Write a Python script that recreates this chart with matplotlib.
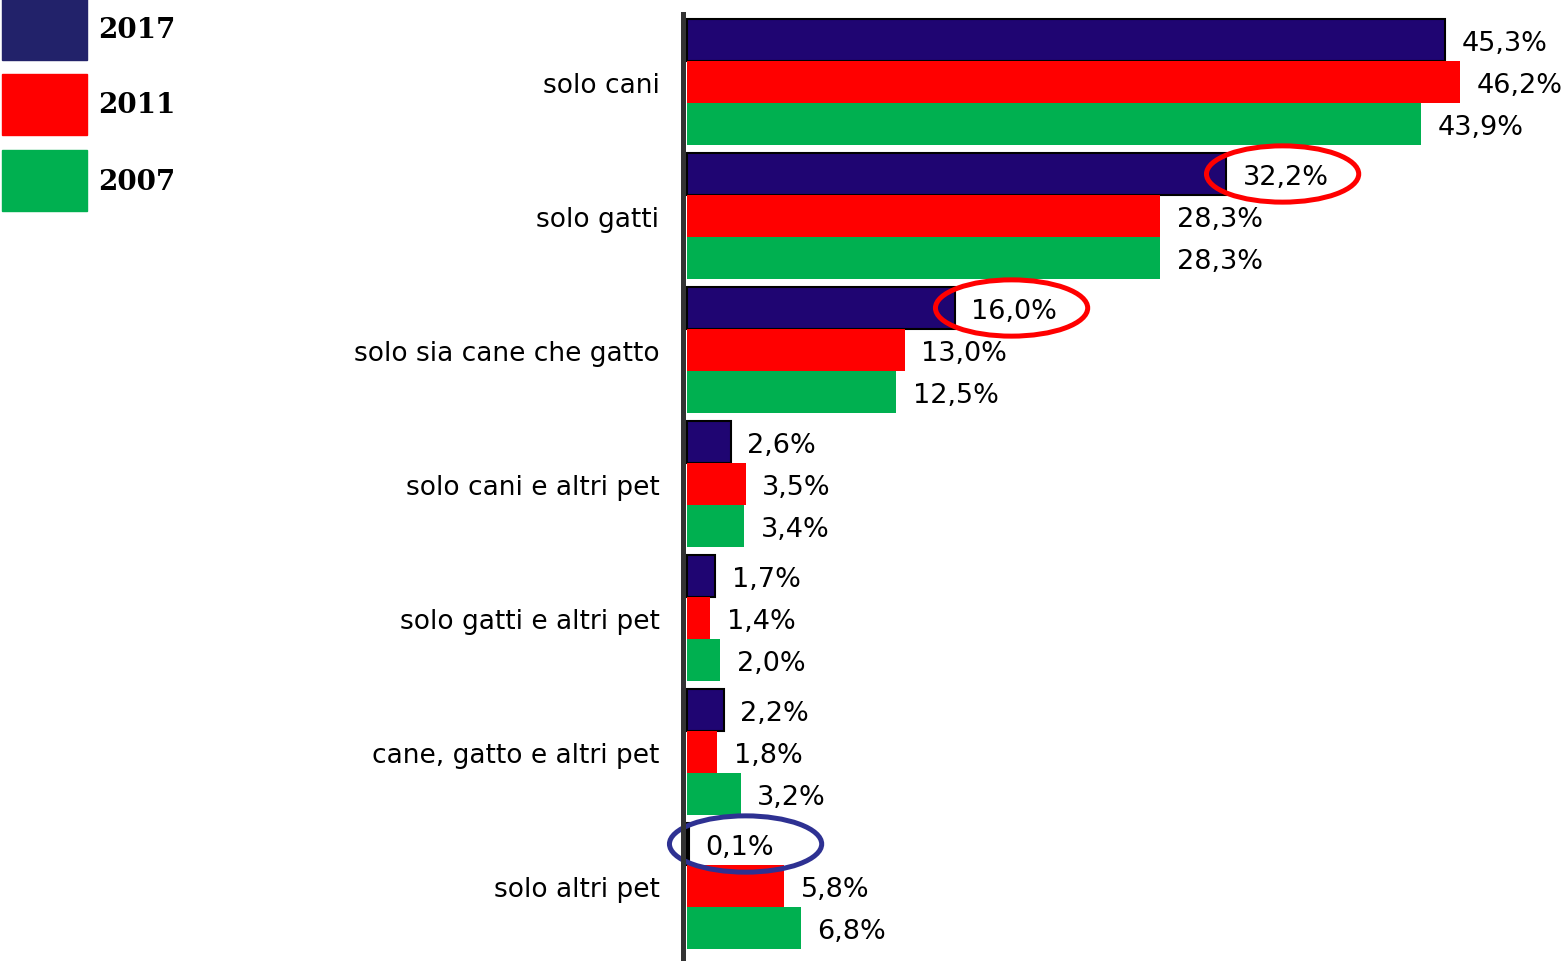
import matplotlib.pyplot as plt
from matplotlib.patches import Ellipse, Rectangle

categories = [
    "solo cani",
    "solo gatti",
    "solo sia cane che gatto",
    "solo cani e altri pet",
    "solo gatti e altri pet",
    "cane, gatto e altri pet",
    "solo altri pet",
]
years = ["2017", "2011", "2007"]
values_2017 = [45.3, 32.2, 16.0, 2.6, 1.7, 2.2, 0.1]
values_2011 = [46.2, 28.3, 13.0, 3.5, 1.4, 1.8, 5.8]
values_2007 = [43.9, 28.3, 12.5, 3.4, 2.0, 3.2, 6.8]
colors = ["#1f0572", "#ff0000", "#00b050"]
legend_colors = ["#22226a", "#ff0000", "#00b050"]

# labels circled in the original: (category index, series index, ring colour)
highlights = [(1, 0, "#ff0000"), (2, 0, "#ff0000"), (6, 0, "#2e3192")]

W, H = 1567, 962
fig = plt.figure(figsize=(W / 100, H / 100), dpi=100)
ax = fig.add_axes([683 / W, 0, 1 - 683 / W, (H - 15) / H])

series = [values_2017, values_2011, values_2007]
bh = 42 / 134
for j, vals in enumerate(series):
    ys = [i + (j - 1) * bh for i in range(len(categories))]
    ax.barh(ys, vals, height=bh, color=colors[j],
            edgecolor="black" if j == 0 else "none",
            linewidth=1.5 if j == 0 else 0)
    for y, v in zip(ys, vals):
        ax.annotate(f"{v:.1f}".replace(".", ",") + "%", (v, y),
                    xytext=(12, -2.5), textcoords="offset points",
                    ha="left", va="center", fontsize=19.5, color="black")

for i, j, c in highlights:
    v = series[j][i]
    y = i + (j - 1) * bh
    ax.add_patch(Ellipse((v + 3.4, y), 9.1, 0.42, fill=False,
                         edgecolor=c, linewidth=3.6, clip_on=False))

ax.set_xlim(-0.24, 52.6)
ax.set_ylim((H - 83) / 134, (15 - 83) / 134)
ax.set_yticks(range(len(categories)))
ax.set_yticklabels(categories, fontsize=19)
ax.tick_params(axis="y", length=0, pad=17)
ax.set_xticks([])
for s in ["top", "right", "bottom"]:
    ax.spines[s].set_visible(False)
ax.spines["left"].set_linewidth(3.6)
ax.spines["left"].set_color("#333333")

# legend drawn by hand at top-left
box_tops = [0, 75, 151]
for top, c, yr in zip(box_tops, legend_colors, years):
    fig.add_artist(Rectangle((2 / W, 1 - (top + 61) / H), 85 / W, 61 / H,
                             color=c, transform=fig.transFigure))
    fig.text(98 / W, 1 - (top + 31) / H, yr, fontsize=20, fontweight="bold",
             family="DejaVu Serif", va="center", ha="left")

fig.savefig("out.png", dpi=100)
